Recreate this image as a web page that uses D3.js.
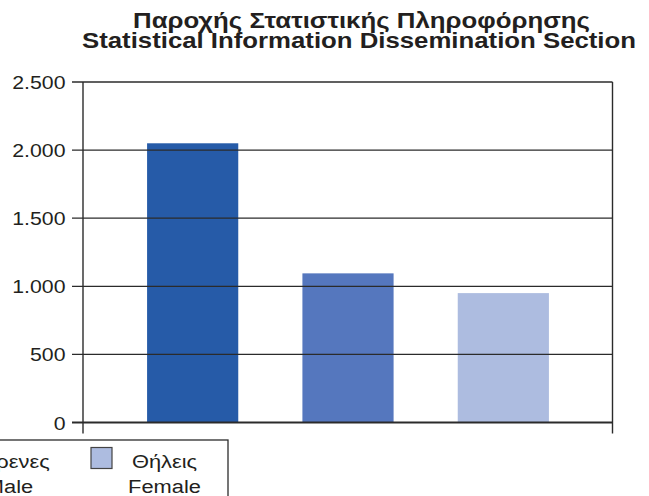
<!DOCTYPE html>
<html><head><meta charset="utf-8">
<script src="https://cdn.jsdelivr.net/npm/d3@7"></script>
<style>body{margin:0;background:#fff}svg{display:block}text{font-family:"Liberation Sans",Arial,sans-serif;fill:#231f20}</style>
</head><body>
<svg id="c" width="649" height="496"></svg>
<script>
const titleLines = ["Παροχής Στατιστικής Πληροφόρησης", "Statistical Information Dissemination Section"];
const categories = ["Σύνολο", "Άρρενες", "Θήλεις"];
const categoriesEn = ["Total", "Male", "Female"];
const values = [2050, 1095, 950];
const colors = ["#265ba8", "#5577be", "#adbce0"];
const yTicks = [0, 500, 1000, 1500, 2000, 2500];
const legendItems = [1, 2];

const svg = d3.select("#c");
const L = 83, R = 612.5, T = 82, B = 422.5;
const SX = 1.12;
const y = d3.scaleLinear().domain([0, 2500]).range([B, T]);
const x = d3.scaleBand().domain(categories).range([115, 581]).paddingInner(0.413).paddingOuter(0.2065);
const fmt = v => d3.format(",")(v).replace(/,/g, ".");

// title
const titleGeo = [{cx: 361.5, y: 28, w: 457}, {cx: 359, y: 48, w: 554}];
svg.selectAll("text.title").data(titleLines).join("text").attr("class", "title")
  .attr("x", (d, i) => titleGeo[i].cx - titleGeo[i].w / 2).attr("y", (d, i) => titleGeo[i].y)
  .attr("textLength", (d, i) => titleGeo[i].w).attr("lengthAdjust", "spacingAndGlyphs")
  .style("font-weight", "bold").style("font-size", "22px").text(d => d);

// bars
svg.selectAll("rect.bar").data(values).join("rect").attr("class", "bar")
  .attr("x", (d, i) => x(categories[i])).attr("width", x.bandwidth())
  .attr("y", d => y(d)).attr("height", d => B - y(d))
  .attr("fill", (d, i) => colors[i]);

// gridlines
svg.selectAll("line.grid").data(yTicks).join("line").attr("class", "grid")
  .attr("x1", L - 11).attr("x2", R).attr("y1", d => y(d)).attr("y2", d => y(d))
  .attr("stroke", "#2b2b2b").attr("stroke-width", d => d === 0 ? 1.8 : 1.3);
// y axis & right border
svg.append("line").attr("x1", L).attr("x2", L).attr("y1", T).attr("y2", B + 11).attr("stroke", "#2b2b2b").attr("stroke-width", 1.4);
svg.append("line").attr("x1", R).attr("x2", R).attr("y1", T).attr("y2", B + 11).attr("stroke", "#2b2b2b").attr("stroke-width", 1.4);

// tick labels
svg.selectAll("text.yl").data(yTicks).join("text").attr("class", "yl")
  .attr("transform", d => `translate(65.5,${y(d) + 7}) scale(${SX},1)`).attr("text-anchor", "end")
  .style("font-size", "19px").text(d => fmt(d));

// legend
svg.append("rect").attr("x", -250).attr("y", 440).attr("width", 478).attr("height", 80)
  .attr("fill", "#fff").attr("stroke", "#2b2b2b").attr("stroke-width", 1.3);
const lg = svg.selectAll("g.lg").data(legendItems).join("g").attr("class", "lg")
  .attr("transform", (d, i) => `translate(${91 - 155 * (legendItems.length - 1 - i)},0)`);
lg.append("rect").attr("x", 0).attr("y", 447.5).attr("width", 21).attr("height", 21)
  .attr("fill", d => colors[d]).attr("stroke", "#444").attr("stroke-width", 1.2);
lg.append("text").attr("transform", "translate(73.5,468) scale(1.15,1)").attr("text-anchor", "middle")
  .style("font-size", "19px").text(d => categories[d]);
lg.append("text").attr("transform", "translate(73.5,492.5) scale(1.15,1)").attr("text-anchor", "middle")
  .style("font-size", "19px").text(d => categoriesEn[d]);
</script>
</body></html>
